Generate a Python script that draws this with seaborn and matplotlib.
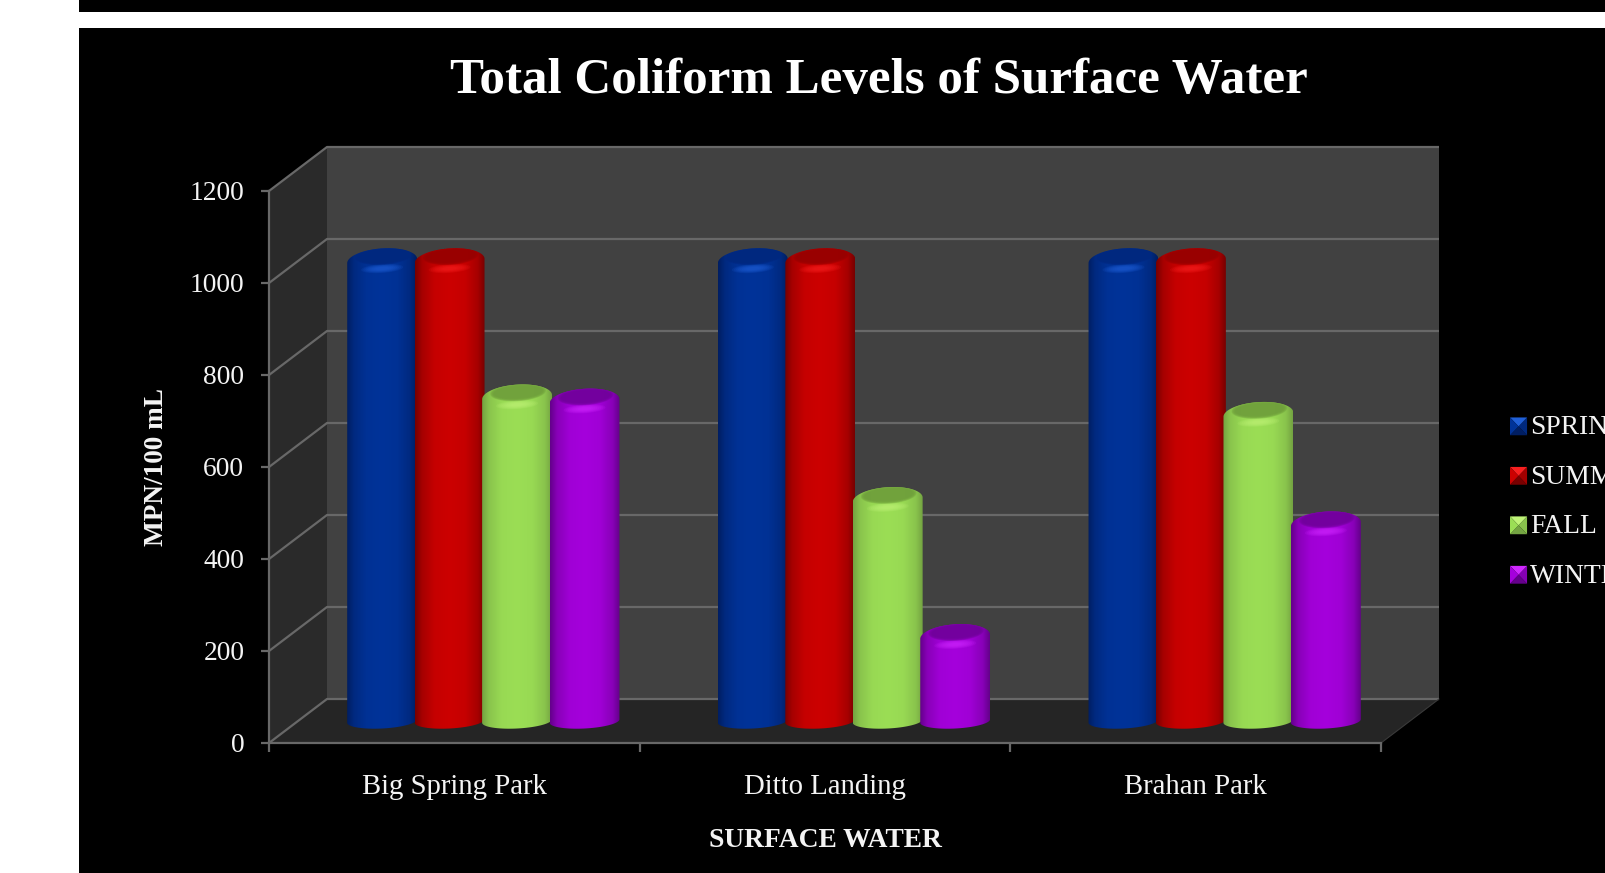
import numpy as np
import pandas as pd
import matplotlib
matplotlib.use("Agg")
import matplotlib.pyplot as plt
from matplotlib.patches import Polygon, Rectangle, Patch
from matplotlib.legend_handler import HandlerBase
from matplotlib.colors import to_rgb
import seaborn as sns

# ---- chart values -------------------------------------------------------
sites = ["Big Spring Park", "Ditto Landing", "Brahan Park"]
seasons = ["SPRING", "SUMMER", "FALL", "WINTER"]
spring = [1000, 1000, 1000]
summer = [1000, 1000, 1000]
fall = [704, 481, 666]
winter = [695, 183, 428]
y_ticks = [0, 200, 400, 600, 800, 1000, 1200]

# ---- colours: lit face, shaded edge, cap top, cap highlight ----------------
face = ["#003399", "#CC0000", "#9BDE55", "#A500DC"]
edge = ["#001E62", "#780000", "#74A442", "#64008A"]
cap = ["#00287F", "#980000", "#70A03C", "#72009C"]
glow = ["#2060D8", "#F82020", "#C0F478", "#D028FF"]
TEXT = "#F4F4F4"
GRID = "#686868"

W, H = 1606, 873
sns.set_theme(style="dark")
plt.rcParams["font.family"] = ["Liberation Serif", "DejaVu Serif"]
fig = plt.figure(figsize=(W / 100, H / 100), dpi=100, facecolor="white")


def panel(x0, y0, x1, y1):
    """Rectangle in figure fractions, given from the top-left corner in pixels."""
    return [x0 / W, 1 - y1 / H, (x1 - x0) / W, (y1 - y0) / H]


# Black slide background with a white stripe and a white left margin
for x0, y0, x1, y1 in [(79, 0, W, 12), (79, 28, W, H)]:
    l, b, w, h = panel(x0, y0, x1, y1)
    fig.add_artist(Rectangle((l, b), w, h, transform=fig.transFigure, color="black", lw=0))

# ---- frame axes: front plane of the 3-D box -------------------------------
PX_X, PX_Y = 1112, 552
frame = fig.add_axes(panel(269, 191, 269 + PX_X, 191 + PX_Y), facecolor="none", zorder=1)
frame.set_xlim(0, 3)
frame.set_ylim(0, 1200)
dx = 58 / PX_X * 3
dy = 44 / PX_Y * 1200

frame.add_patch(Polygon([(dx, dy), (3 + dx, dy), (3 + dx, 1200 + dy), (dx, 1200 + dy)],
                        color="#414141", lw=0, clip_on=False, zorder=0))
frame.add_patch(Polygon([(0, 0), (dx, dy), (dx, 1200 + dy), (0, 1200)],
                        color="#2A2A2A", lw=0, clip_on=False, zorder=0))
frame.add_patch(Polygon([(0, 0), (3, 0), (3 + dx, dy), (dx, dy)],
                        color="#252525", lw=0, clip_on=False, zorder=0))
for v in y_ticks:
    frame.plot([0, dx, 3 + dx], [v, v + dy, v + dy], color=GRID, lw=1.6,
               clip_on=False, zorder=1, solid_capstyle="butt")
frame.plot([3, 3 + dx], [0, dy], color="#3A3A3A", lw=0.8, clip_on=False, zorder=1)

for side in ["top", "right"]:
    frame.spines[side].set_visible(False)
for side in ["left", "bottom"]:
    frame.spines[side].set_color(GRID)
    frame.spines[side].set_linewidth(1.6)

frame.set_yticks(y_ticks)
frame.set_xticks([0, 1, 2, 3])
frame.set_xticklabels([])
frame.set_xticks([0.5, 1.5, 2.5], labels=sites, minor=True)
frame.tick_params(axis="y", which="major", left=True, length=5.8, width=1.6, color=GRID,
                  labelcolor=TEXT, labelsize=19.8, pad=12)
frame.tick_params(axis="x", which="major", bottom=True, length=6.5, width=1.6, color=GRID)
frame.tick_params(axis="x", which="minor", bottom=False, labelcolor=TEXT, labelsize=20.7, pad=18.5)
frame.set_ylabel("MPN/100 mL", color=TEXT, fontsize=19.6, fontweight="bold", labelpad=15)
frame.set_xlabel("SURFACE WATER", color=TEXT, fontsize=19.8, fontweight="bold", labelpad=20)

# ---- bar axes: the plane halfway into the box ------------------------------
bars = fig.add_axes(panel(298, 169, 298 + PX_X, 169 + PX_Y), facecolor="none", zorder=2)
df = pd.DataFrame({
    "site": np.repeat(sites, len(seasons)),
    "season": seasons * len(sites),
    "mpn": np.array([spring, summer, fall, winter]).T.ravel(),
})
sns.barplot(data=df, x="site", y="mpn", hue="season", hue_order=seasons, order=sites,
            palette=face, width=0.728, gap=0, legend=False, ax=bars)
bars.set_xlim(-0.5, 2.5)
bars.set_ylim(0, 1200)
bars.axis("off")

SX, SY = 3 / PX_X, 1200 / PX_Y  # data units per pixel


def ellipse(cx, cy, a, b, tilt, t0=0.0, t1=2 * np.pi, n=80, ox=0.0, oy=0.0):
    """Tilted ellipse outline; sizes in pixels, centre in data units."""
    t = np.linspace(t0, t1, n)
    ex, ey = a * np.cos(t), b * np.sin(t)
    c, s = np.cos(np.radians(tilt)), np.sin(np.radians(tilt))
    return np.column_stack([cx + (ox + ex * c - ey * s) * SX,
                            cy + (oy + ex * s + ey * c) * SY])


def cylinder(rect, i):
    """Shade one seaborn bar as an upright cylinder using the bar's own geometry."""
    cx = rect.get_x() + rect.get_width() / 2
    top = rect.get_height()
    half = 35
    order = i * 10
    outline = np.vstack([
        ellipse(cx, 0, half, 7.5, 3, np.pi, 2 * np.pi),
        ellipse(cx, top, half, 12.5, 4, 0, np.pi),
    ])
    clip = Polygon(outline, closed=True, transform=bars.transData, fc="none", ec="none", clip_on=False)
    bars.add_patch(clip)

    stops = [0.0, 0.10, 0.28, 0.5, 0.72, 0.90, 1.0]
    mix = [0.0, 0.55, 0.92, 1.0, 0.92, 0.55, 0.0]
    t = np.interp(np.linspace(0, 1, 140), stops, mix)[None, :, None]
    shade = np.array(to_rgb(edge[i])) * (1 - t) + np.array(to_rgb(face[i])) * t
    img = bars.imshow(shade, extent=(cx - half * SX, cx + half * SX, -12 * SY, top + 14 * SY),
                      aspect="auto", zorder=3 + order, interpolation="bilinear")
    img.set_clip_path(clip)
    img.set_clip_box(fig.bbox)  # the cylinder's base dips below the axes' lower limit

    # Rim highlight below the cap, then the darker recessed top
    for k in range(8):
        f = 1 - k / 8
        p = Polygon(ellipse(cx, top, 16 * f + 5, 3.5 * f + 1, 4, oy=-7.5), color=glow[i],
                    alpha=0.14, lw=0, zorder=4 + order)
        bars.add_patch(p)
        p.set_clip_path(clip)
    for k in range(8):
        f = 1 - k / 8
        p = Polygon(ellipse(cx, top, 23 + 5 * f, 5.5 + 3.5 * f, 4, ox=1, oy=5), color=cap[i],
                    alpha=0.3, lw=0, zorder=5 + order)
        bars.add_patch(p)
        p.set_clip_path(clip)
    rect.set_visible(False)


for i, group in enumerate(bars.containers):
    for rect in group:
        cylinder(rect, i)
bars.set_xlim(-0.5, 2.5)
bars.set_ylim(0, 1200)


# ---- legend with pyramid-shaded keys ---------------------------------------
class PyramidKey(HandlerBase):
    def create_artists(self, legend, orig, x0, y0, width, height, fontsize, trans):
        i = seasons.index(orig.get_label())
        base, dark, bright = np.array(to_rgb(face[i])), np.array(to_rgb(edge[i])), np.array(to_rgb(glow[i]))
        s = height * 1.0
        x = x0
        y = y0 + (height - s) / 2
        mid = (x + width / 2, y + s / 2)
        corners = [(x, y), (x + width, y), (x + width, y + s), (x, y + s)]
        tones = [dark, (base + dark) / 2, bright, base]
        return [Polygon([corners[k], corners[(k + 1) % 4], mid], color=tones[k], lw=0, transform=trans)
                for k in range(4)]


handles = [Patch(label=s) for s in seasons]
fig.legend(handles=handles, labels=seasons, handler_map={Patch: PyramidKey()},
           loc="upper left", bbox_to_anchor=(1510 / W, 1 - 415.5 / H), bbox_transform=fig.transFigure,
           frameon=False, fontsize=19.8, labelcolor=TEXT, handlelength=0.62, handleheight=0.62,
           handletextpad=0.12, labelspacing=0.89, borderpad=0, borderaxespad=0)

fig.text(879 / W, 1 - 81 / H, "Total Coliform Levels of Surface Water", color="white",
         fontsize=36.7, fontweight="bold", ha="center", va="center")

fig.savefig("out.png", dpi=100, facecolor="white")
